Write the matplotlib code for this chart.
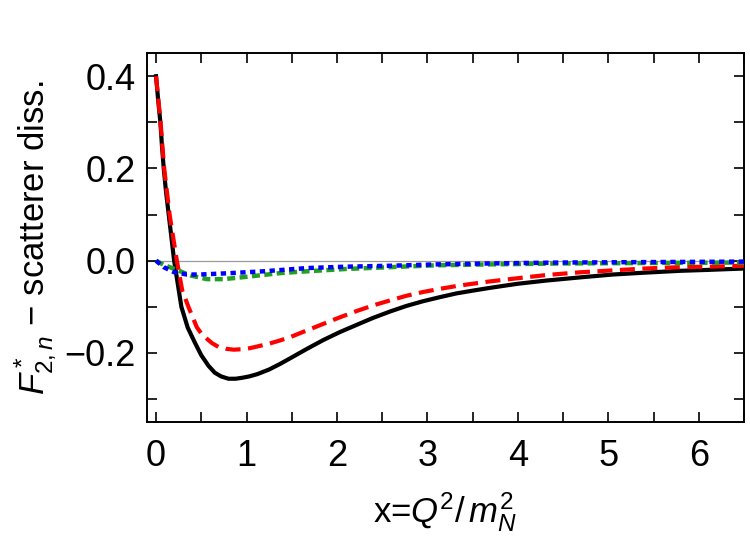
"""Structure function difference F*_2,n minus scatterer dissociation vs x = Q^2/m_N^2."""

import matplotlib
matplotlib.use("Agg")
import matplotlib.pyplot as plt
from matplotlib.ticker import MultipleLocator

plt.rcParams['font.family'] = ['Liberation Sans', 'DejaVu Sans']
plt.rcParams['mathtext.fontset'] = 'custom'
plt.rcParams['mathtext.rm'] = 'Liberation Sans'
plt.rcParams['mathtext.it'] = 'Liberation Sans:italic'

# values
x_black = [0.0, 0.025, 0.048, 0.065, 0.085, 0.11, 0.14, 0.17, 0.20, 0.24, 0.28, 0.35, 0.43,
           0.50, 0.58, 0.65, 0.72, 0.80, 0.88, 0.95, 1.03, 1.12, 1.25, 1.37, 1.48, 1.67,
           1.85, 2.03, 2.22, 2.40, 2.59, 2.77, 2.95, 3.14, 3.32, 3.50, 3.69, 4.0, 4.32, 4.7,
           5.05, 5.4, 5.79, 6.1, 6.5]
y_black = [0.40, 0.345, 0.30, 0.25, 0.20, 0.15, 0.10, 0.05, 0.0, -0.05, -0.10, -0.145, -0.178,
           -0.205, -0.228, -0.243, -0.251, -0.256, -0.256, -0.254, -0.251, -0.246, -0.236,
           -0.224, -0.212, -0.191, -0.172, -0.155, -0.139, -0.124, -0.110, -0.098, -0.088,
           -0.079, -0.071, -0.065, -0.059, -0.050, -0.043, -0.036, -0.030, -0.026, -0.022,
           -0.020, -0.017]

x_red = [0.0, 0.05, 0.09, 0.15, 0.19, 0.23, 0.29, 0.36, 0.45, 0.50, 0.56, 0.62, 0.69, 0.77,
         0.86, 0.95, 1.03, 1.12, 1.25, 1.37, 1.48, 1.67, 1.85, 2.03, 2.22, 2.40, 2.59, 2.77,
         2.95, 3.14, 3.32, 3.50, 3.69, 4.0, 4.32, 4.7, 5.05, 5.4, 5.79, 6.1, 6.5]
y_red = [0.40, 0.30, 0.20, 0.10, 0.05, 0.0, -0.065, -0.101, -0.144, -0.158, -0.169, -0.179,
         -0.187, -0.191, -0.193, -0.192, -0.190, -0.186, -0.180, -0.173, -0.166, -0.151,
         -0.137, -0.123, -0.109, -0.097, -0.086, -0.076, -0.068, -0.061, -0.055, -0.050,
         -0.045, -0.038, -0.031, -0.025, -0.021, -0.017, -0.014, -0.013, -0.011]

x_green = [0.0, 0.085, 0.23, 0.38, 0.56, 0.75, 1.0, 1.37, 1.67, 2.1, 2.59, 3.1, 3.69, 4.5,
           5.5, 6.5]
y_green = [0.0, -0.009, -0.020, -0.032, -0.040, -0.040, -0.035, -0.027, -0.023, -0.018,
           -0.014, -0.010, -0.008, -0.006, -0.005, -0.004]

x_blue = [0.0, 0.085, 0.20, 0.34, 0.49, 0.82, 1.19, 1.67, 2.1, 2.59, 3.1, 3.69, 4.5, 5.5, 6.5]
y_blue = [0.0, -0.014, -0.025, -0.030, -0.030, -0.027, -0.023, -0.016, -0.013, -0.011,
          -0.008, -0.006, -0.004, -0.003, -0.002]

fig = plt.figure(figsize=(7.5, 5.37), dpi=100)
ax = fig.add_axes([0.196, 0.214, 0.796, 0.687])

ax.axhline(0, color='#999999', lw=0.9, zorder=1)
ax.plot(x_black, y_black, color='black', lw=3.0, zorder=2)
ax.plot(x_red, y_red, color='#ff0000', lw=3.0, dashes=(3.6, 1.8), zorder=3)
ax.plot(x_green, y_green, color='#22a022', lw=3.2, dashes=(1.8, 1.0), zorder=4)
ax.plot(x_blue, y_blue, color='#0000ff', lw=3.2, dashes=(1.2, 1.0), zorder=5)

ax.set_xlim(-0.1, 6.5)
ax.set_ylim(-0.35, 0.45)
ax.xaxis.set_major_locator(MultipleLocator(1))
ax.xaxis.set_minor_locator(MultipleLocator(0.5))
ax.yaxis.set_major_locator(MultipleLocator(0.2))
ax.yaxis.set_minor_locator(MultipleLocator(0.1))
ax.yaxis.set_major_formatter(plt.FuncFormatter(
    lambda v, p: ('\u2212' if v < -1e-9 else '') + f'{abs(v):.1f}'))

for which in ('major', 'minor'):
    ax.tick_params(which=which, direction='in', length=7, width=1.2,
                   top=True, right=True, labelsize=26)
ax.tick_params(axis='x', pad=12)
ax.tick_params(axis='y', pad=8)
for s in ax.spines.values():
    s.set_linewidth(1.4)

ax.set_xlabel(r'x=$Q^2/\,m_N^2$', fontsize=25, labelpad=12)
ax.set_ylabel(r'$F^*_{2,n}$ $-$ scatterer diss.', fontsize=25, labelpad=4)

fig.savefig('out.png', dpi=100)
